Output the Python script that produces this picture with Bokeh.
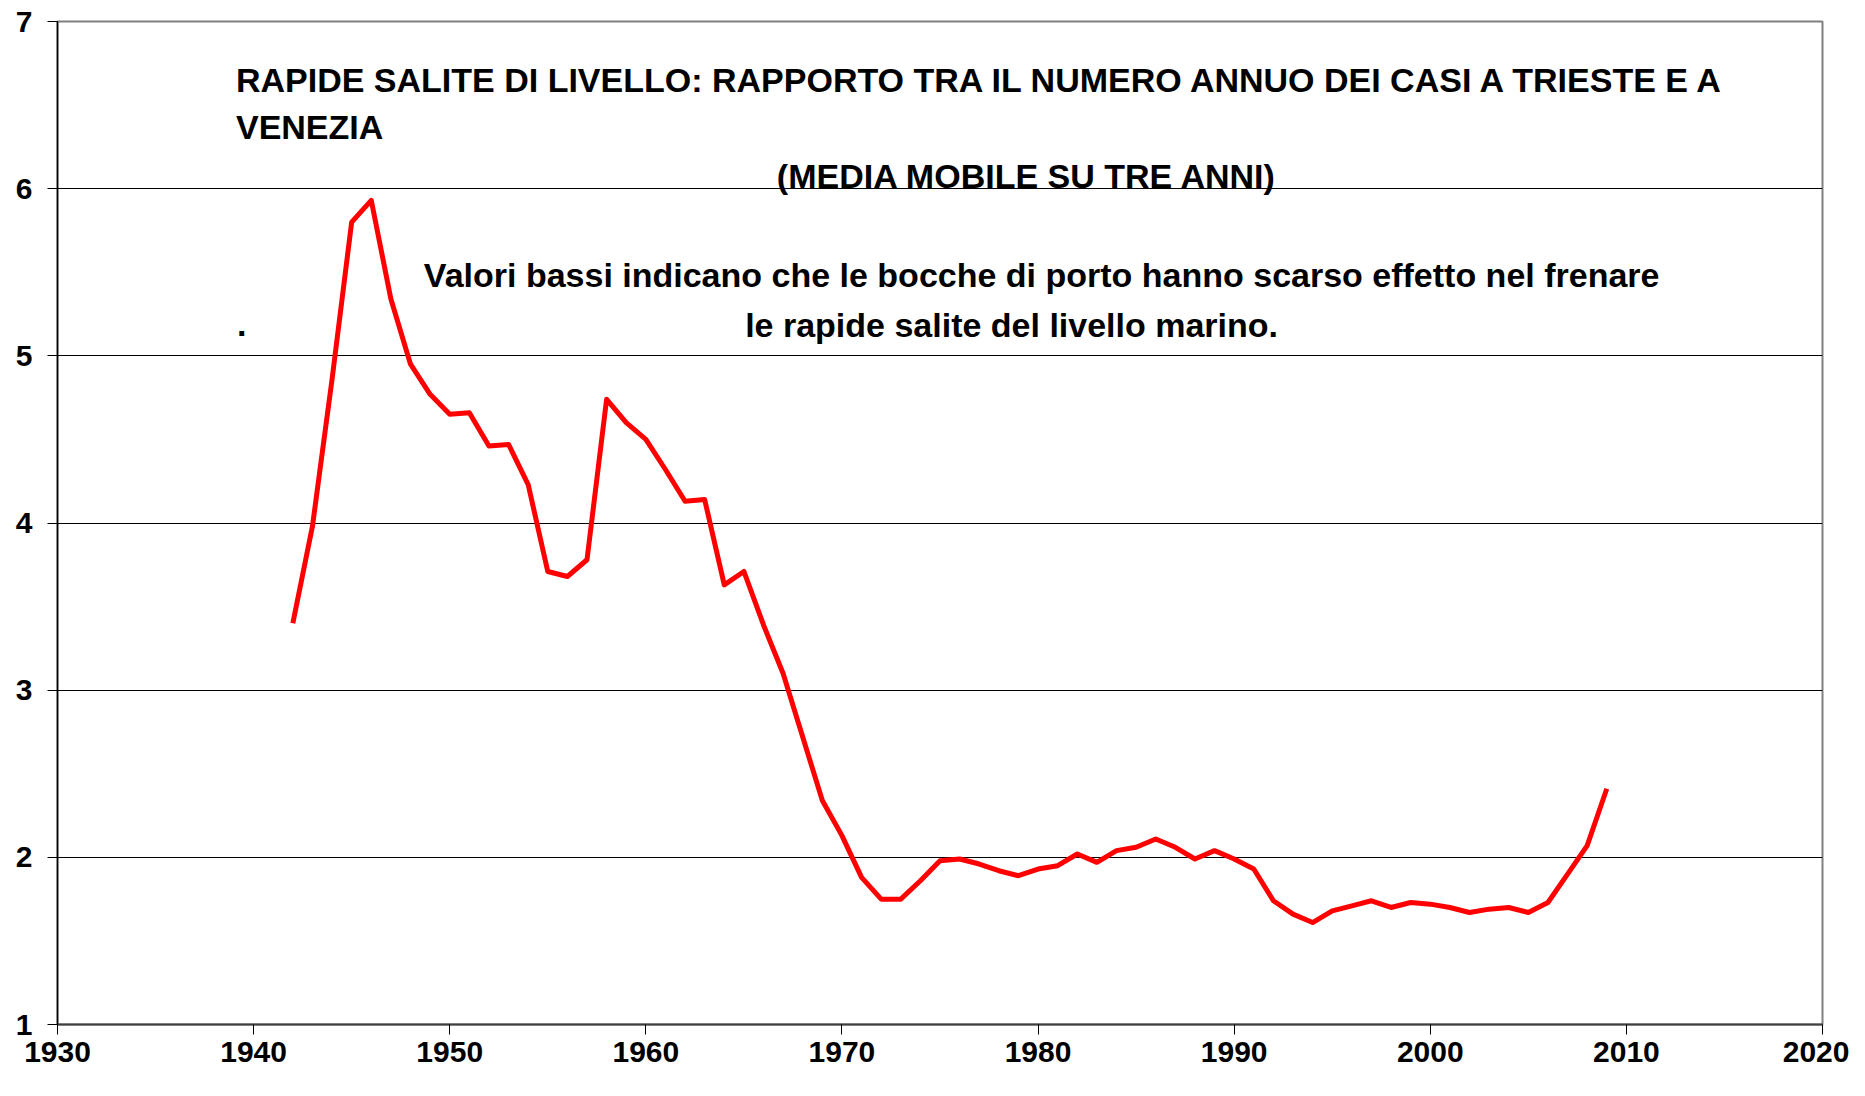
from bokeh.plotting import figure
from bokeh.models import Range1d, FixedTicker, Label
from bokeh.embed import file_html
from bokeh.resources import INLINE

years = list(range(1942, 2010))
ratio = [3.40, 3.98, 4.86, 5.80, 5.93, 5.34, 4.95, 4.77, 4.65, 4.66,
         4.46, 4.47, 4.23, 3.71, 3.68, 3.78, 4.74, 4.60, 4.50, 4.32,
         4.13, 4.14, 3.63, 3.71, 3.39, 3.10, 2.72, 2.34, 2.13, 1.88,
         1.75, 1.75, 1.86, 1.98, 1.99, 1.96, 1.92, 1.89, 1.93, 1.95,
         2.02, 1.97, 2.04, 2.06, 2.11, 2.06, 1.99, 2.04, 1.99, 1.93,
         1.74, 1.66, 1.61, 1.68, 1.71, 1.74, 1.70, 1.73, 1.72, 1.70,
         1.67, 1.69, 1.70, 1.67, 1.73, 1.90, 2.07, 2.41]

x_ticks = [1930, 1940, 1950, 1960, 1970, 1980, 1990, 2000, 2010, 2020]
y_ticks = [1, 2, 3, 4, 5, 6, 7]

title1 = "RAPIDE SALITE DI LIVELLO: RAPPORTO TRA IL NUMERO ANNUO DEI CASI A TRIESTE E A"
title2 = "VENEZIA"
subtitle = "(MEDIA MOBILE SU TRE ANNI)"
note1 = "Valori bassi indicano che le bocche di porto hanno scarso effetto nel frenare"
note2 = "le rapide salite del livello marino."

FONT = "Liberation Sans"

p = figure(width=1849, height=1080,
           x_range=Range1d(1930, 2020), y_range=Range1d(1, 7),
           output_backend="svg", toolbar_location=None,
           min_border_left=57, min_border_right=27,
           min_border_top=21, min_border_bottom=56)

p.background_fill_color = "white"
p.border_fill_color = "white"
p.outline_line_color = "#808080"
p.outline_line_width = 2

p.xgrid.grid_line_color = None
p.ygrid.grid_line_color = "black"
p.ygrid.grid_line_width = 1
p.ygrid.ticker = FixedTicker(ticks=y_ticks)

p.xaxis.ticker = FixedTicker(ticks=x_ticks)
p.yaxis.ticker = FixedTicker(ticks=y_ticks)

for ax in (p.xaxis[0], p.yaxis[0]):
    ax.major_tick_in = 0
    ax.major_tick_out = 10
    ax.minor_tick_in = 0
    ax.minor_tick_out = 0
    ax.major_tick_line_color = "black"
    ax.major_label_text_font = FONT
    ax.major_label_text_font_style = "bold"
    ax.major_label_text_font_size = "30px"
    ax.major_label_text_color = "black"

p.xaxis.axis_line_color = "#404040"
p.xaxis.axis_line_width = 2
p.xaxis.major_label_standoff = 7
p.yaxis.axis_line_color = "black"
p.yaxis.axis_line_width = 1.5
p.yaxis.major_label_standoff = 15

p.line(years, ratio, line_color="#ff0000", line_width=5, line_join="round")

def add_text(x, y, t, align="left"):
    p.add_layout(Label(x=x, y=y, text=t, text_font=FONT, text_font_style="bold",
                       text_font_size="34px", text_color="black",
                       text_align=align, text_baseline="middle"))

add_text(1939.1, 6.65, title1)
add_text(1939.1, 6.366, title2)
add_text(1979.44, 6.075, subtitle, "center")
add_text(1948.68, 5.483, note1)
add_text(1978.65, 5.185, note2, "center")
add_text(1939.15, 5.185, ".")

open("out.html", "w").write(file_html(p, INLINE))
